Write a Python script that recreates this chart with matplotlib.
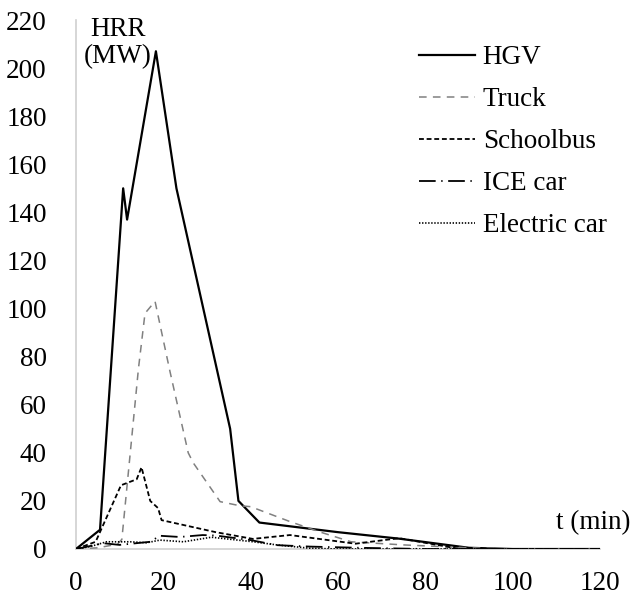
import matplotlib
matplotlib.use("Agg")
import matplotlib.pyplot as plt

plt.rcParams['font.family'] = ['Liberation Serif', 'DejaVu Serif']
plt.rcParams['lines.scale_dashes'] = False

# data
hgv_t = [0, 5.5, 10.8, 11.7, 18.3, 23, 35.3, 37.2, 42, 60, 74, 90, 100, 120]
hgv_v = [0, 8, 150, 137, 207, 150, 50, 20, 11, 7, 4.3, 0.5, 0, 0]

truck_t = [0, 5, 9.5, 10.5, 14.3, 15.8, 18.1, 21.5, 25.7, 26.9, 33, 37.5, 40, 49, 56, 63, 75, 90, 100, 120]
truck_v = [0, 0.5, 2, 4, 75, 98, 103, 74, 40, 35.7, 19.7, 18, 17.6, 11.4, 7, 3, 1.7, 0.5, 0, 0]

bus_t = [0, 4.5, 10.3, 13.9, 15, 17, 18.8, 19.6, 32, 40.5, 49, 64, 74, 88, 120]
bus_v = [0, 3, 26.5, 29, 34, 20, 17, 12, 7, 4.2, 5.8, 2.2, 4.5, 0, 0]

ice_t = [0, 6.3, 10, 17, 19.2, 23.8, 29, 32, 40, 46, 53.6, 65, 80, 120]
ice_v = [0, 2.4, 1.7, 3, 5.5, 5, 5.8, 5.6, 3.7, 1.6, 1, 0.5, 0, 0]

ev_t = [0, 3.2, 7, 12.4, 16.2, 19.2, 24.6, 31, 40.6, 46, 53.6, 60, 120]
ev_v = [0, 1, 3, 3, 2.6, 3.7, 3, 4.9, 3, 1.7, 0.3, 0, 0]

labels = ["HGV", "Truck", "Schoolbus", "ICE car", "Electric car"]
yticks = [0, 20, 40, 60, 80, 100, 120, 140, 160, 180, 200, 220]
xticks = [0, 20, 40, 60, 80, 100, 120]

FS = 19.5

fig = plt.figure(figsize=(6.33, 5.97), dpi=100)
ax = fig.add_axes([76/633, 1 - 549/597, (600-76)/633, (549-20)/597])

ax.plot(hgv_t, hgv_v, color='black', lw=1.6, label=labels[0])
ax.plot(truck_t, truck_v, color='#808080', lw=1.1, dashes=(5.5, 4.5), label=labels[1])
ax.plot(bus_t, bus_v, color='black', lw=1.3, dashes=(3.5, 2), label=labels[2])
ax.plot(ice_t, ice_v, color='black', lw=1.3, dashes=(12, 4, 1, 4), label=labels[3])
ax.plot(ev_t, ev_v, color='black', lw=1.2, dashes=(1, 1.2), label=labels[4])

ax.set_xlim(0, 120)
ax.set_ylim(0, 220)
ax.set_xticks(xticks)
ax.set_yticks(yticks)
ax.tick_params(length=0, labelsize=FS)
ax.tick_params(axis='y', pad=21)
ax.tick_params(axis='x', pad=16)
for s in ['top', 'right']:
    ax.spines[s].set_visible(False)
for s in ['left', 'bottom']:
    ax.spines[s].set_color('#d0d0d0')
    ax.spines[s].set_linewidth(1.2)
    ax.spines[s].set_zorder(0)

fig.text(118/633, 1 - 43/597, "HRR\n(MW)", ha='center', va='center', fontsize=FS, linespacing=1.1)
fig.text(631/633, 1 - 523/597, "t (min)", ha='right', va='center', fontsize=FS)

leg = ax.legend(loc='upper left', bbox_to_anchor=(419/633, 1 - 45/597), bbox_transform=fig.transFigure,
                frameon=False, fontsize=FS, handlelength=2.05, handletextpad=0.3,
                borderpad=0, borderaxespad=0, labelspacing=0.63)

fig.savefig("out.png", dpi=100)
